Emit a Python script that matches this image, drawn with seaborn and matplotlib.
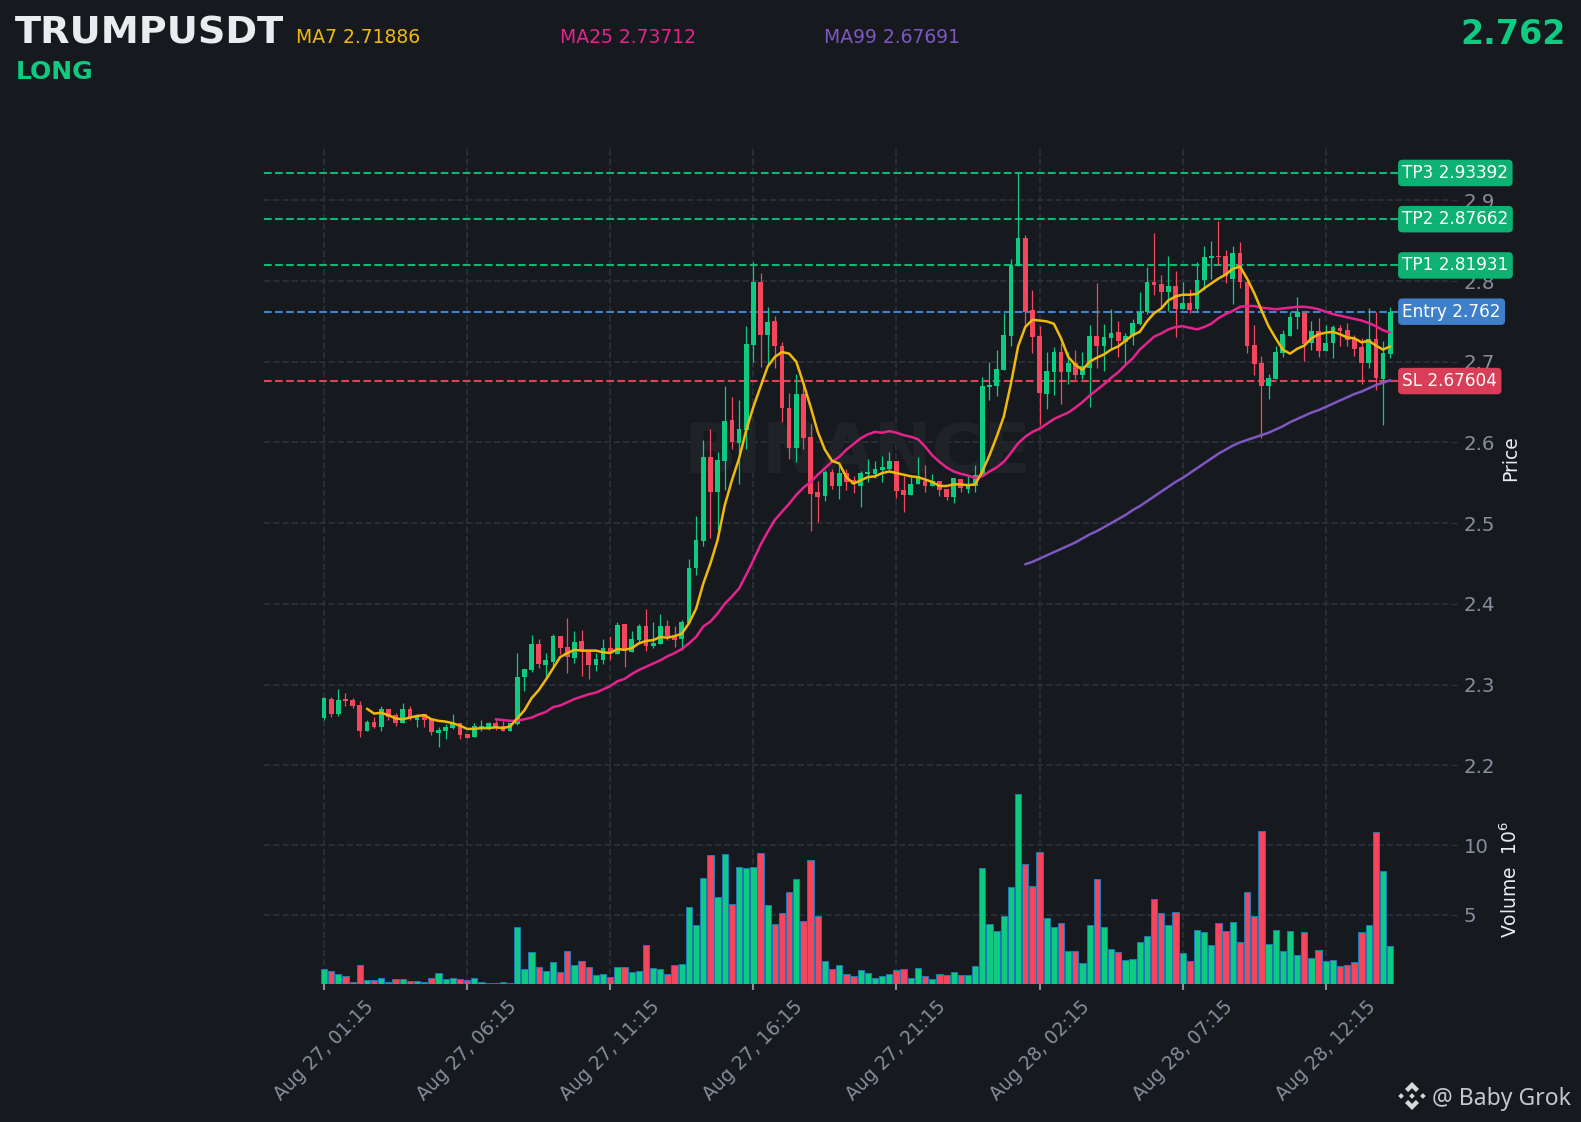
import matplotlib
matplotlib.use("Agg")
import matplotlib.pyplot as plt
import seaborn as sns
import numpy as np
import pandas as pd
from matplotlib.patches import Polygon

opens = [
    2.258, 2.282, 2.263, 2.282, 2.281, 2.275, 2.242, 2.254, 2.247, 2.270,
    2.262, 2.252, 2.270, 2.256, 2.263, 2.257, 2.240, 2.242, 2.246, 2.252,
    2.239, 2.235, 2.247, 2.247, 2.252, 2.249, 2.242, 2.251, 2.309, 2.318,
    2.350, 2.324, 2.328, 2.360, 2.346, 2.333, 2.354, 2.341, 2.324, 2.330,
    2.345, 2.338, 2.375, 2.340, 2.355, 2.372, 2.348, 2.350, 2.372, 2.360,
    2.356, 2.376, 2.444, 2.478, 2.582, 2.539, 2.577, 2.628, 2.599, 2.615,
    2.721, 2.799, 2.733, 2.750, 2.720, 2.643, 2.593, 2.660, 2.607, 2.539,
    2.534, 2.563, 2.546, 2.562, 2.553, 2.546, 2.561, 2.561, 2.566, 2.567,
    2.577, 2.541, 2.535, 2.548, 2.552, 2.546, 2.552, 2.542, 2.532, 2.555,
    2.542, 2.546, 2.558, 2.669, 2.670, 2.690, 2.732, 2.819, 2.853, 2.764,
    2.732, 2.660, 2.687, 2.712, 2.687, 2.698, 2.684, 2.692, 2.732, 2.719,
    2.729, 2.737, 2.725, 2.732, 2.747, 2.762, 2.799, 2.796, 2.786, 2.794,
    2.765, 2.773, 2.765, 2.801, 2.828, 2.831, 2.831, 2.802, 2.835, 2.799,
    2.721, 2.698, 2.670, 2.679, 2.711, 2.732, 2.755, 2.760, 2.723, 2.738,
    2.713, 2.723, 2.742, 2.739, 2.728, 2.718, 2.698, 2.728, 2.679, 2.710,
]
closes = [
    2.283, 2.263, 2.281, 2.280, 2.273, 2.242, 2.254, 2.247, 2.270, 2.260,
    2.252, 2.270, 2.258, 2.262, 2.256, 2.241, 2.244, 2.247, 2.251, 2.237,
    2.234, 2.249, 2.249, 2.252, 2.246, 2.242, 2.252, 2.309, 2.319, 2.350,
    2.325, 2.330, 2.360, 2.345, 2.334, 2.353, 2.341, 2.324, 2.332, 2.345,
    2.340, 2.374, 2.343, 2.356, 2.372, 2.348, 2.351, 2.372, 2.360, 2.355,
    2.377, 2.444, 2.479, 2.582, 2.539, 2.578, 2.626, 2.600, 2.617, 2.722,
    2.799, 2.733, 2.749, 2.720, 2.643, 2.593, 2.660, 2.606, 2.536, 2.532,
    2.563, 2.546, 2.562, 2.551, 2.549, 2.562, 2.563, 2.567, 2.570, 2.577,
    2.540, 2.535, 2.548, 2.558, 2.546, 2.552, 2.541, 2.532, 2.556, 2.544,
    2.546, 2.560, 2.670, 2.671, 2.691, 2.733, 2.820, 2.853, 2.762, 2.731,
    2.661, 2.688, 2.712, 2.687, 2.698, 2.684, 2.695, 2.732, 2.719, 2.731,
    2.735, 2.726, 2.732, 2.748, 2.762, 2.799, 2.795, 2.786, 2.794, 2.765,
    2.773, 2.764, 2.801, 2.830, 2.831, 2.830, 2.806, 2.835, 2.799, 2.720,
    2.697, 2.670, 2.680, 2.712, 2.734, 2.755, 2.762, 2.722, 2.738, 2.713,
    2.723, 2.743, 2.738, 2.727, 2.716, 2.698, 2.728, 2.680, 2.711, 2.762,
]
highs = [
    2.285, 2.285, 2.295, 2.290, 2.283, 2.279, 2.256, 2.260, 2.273, 2.270,
    2.265, 2.277, 2.274, 2.264, 2.263, 2.258, 2.247, 2.251, 2.263, 2.252,
    2.239, 2.252, 2.256, 2.254, 2.256, 2.255, 2.252, 2.339, 2.319, 2.361,
    2.356, 2.339, 2.363, 2.360, 2.382, 2.366, 2.367, 2.341, 2.339, 2.357,
    2.360, 2.377, 2.375, 2.366, 2.375, 2.393, 2.377, 2.387, 2.380, 2.373,
    2.380, 2.455, 2.509, 2.603, 2.617, 2.588, 2.670, 2.656, 2.653, 2.744,
    2.823, 2.810, 2.768, 2.757, 2.724, 2.661, 2.685, 2.675, 2.623, 2.552,
    2.566, 2.567, 2.572, 2.567, 2.558, 2.564, 2.579, 2.577, 2.583, 2.588,
    2.577, 2.558, 2.557, 2.582, 2.572, 2.561, 2.552, 2.542, 2.556, 2.555,
    2.558, 2.572, 2.681, 2.700, 2.715, 2.760, 2.827, 2.934, 2.857, 2.789,
    2.744, 2.712, 2.718, 2.723, 2.712, 2.715, 2.712, 2.745, 2.797, 2.747,
    2.765, 2.750, 2.736, 2.753, 2.786, 2.817, 2.860, 2.807, 2.831, 2.812,
    2.799, 2.790, 2.824, 2.843, 2.849, 2.874, 2.839, 2.843, 2.848, 2.799,
    2.746, 2.707, 2.685, 2.720, 2.739, 2.762, 2.780, 2.762, 2.751, 2.754,
    2.746, 2.746, 2.746, 2.748, 2.733, 2.729, 2.767, 2.762, 2.726, 2.768,
]
lows = [
    2.256, 2.260, 2.261, 2.274, 2.271, 2.235, 2.242, 2.246, 2.243, 2.256,
    2.248, 2.252, 2.256, 2.247, 2.247, 2.238, 2.223, 2.232, 2.245, 2.232,
    2.234, 2.235, 2.242, 2.244, 2.244, 2.242, 2.242, 2.250, 2.292, 2.316,
    2.320, 2.310, 2.323, 2.338, 2.314, 2.327, 2.310, 2.307, 2.317, 2.325,
    2.330, 2.338, 2.322, 2.340, 2.351, 2.342, 2.345, 2.350, 2.355, 2.347,
    2.343, 2.376, 2.436, 2.472, 2.482, 2.492, 2.541, 2.592, 2.549, 2.592,
    2.700, 2.693, 2.697, 2.692, 2.625, 2.579, 2.576, 2.592, 2.490, 2.501,
    2.527, 2.542, 2.530, 2.541, 2.537, 2.520, 2.551, 2.556, 2.551, 2.566,
    2.531, 2.514, 2.535, 2.548, 2.539, 2.546, 2.534, 2.529, 2.525, 2.539,
    2.537, 2.538, 2.558, 2.652, 2.658, 2.690, 2.719, 2.819, 2.746, 2.711,
    2.622, 2.642, 2.659, 2.648, 2.672, 2.679, 2.678, 2.644, 2.692, 2.689,
    2.715, 2.706, 2.696, 2.721, 2.745, 2.759, 2.783, 2.767, 2.763, 2.731,
    2.765, 2.760, 2.762, 2.789, 2.802, 2.820, 2.798, 2.772, 2.791, 2.711,
    2.684, 2.606, 2.654, 2.679, 2.706, 2.732, 2.741, 2.701, 2.714, 2.706,
    2.713, 2.705, 2.719, 2.720, 2.707, 2.673, 2.692, 2.665, 2.621, 2.704,
]
# volume in millions
volumes = [
    1.06, 0.96, 0.70, 0.55, 0.17, 1.34, 0.29, 0.29, 0.46, 0.17,
    0.38, 0.38, 0.22, 0.24, 0.12, 0.46, 0.82, 0.38, 0.46, 0.38,
    0.31, 0.46, 0.17, 0.10, 0.10, 0.17, 0.10, 4.12, 1.06, 2.33,
    1.20, 0.91, 1.56, 0.84, 2.40, 1.34, 1.63, 1.20, 0.62, 0.70,
    0.48, 1.20, 1.20, 0.84, 0.91, 2.78, 1.13, 1.06, 0.70, 1.34,
    1.41, 5.52, 4.22, 7.60, 9.26, 6.24, 9.33, 5.73, 8.39, 8.32,
    8.39, 9.40, 5.66, 4.29, 5.08, 6.59, 7.53, 4.51, 8.90, 4.87,
    1.63, 1.06, 1.34, 0.70, 0.55, 0.98, 0.77, 0.41, 0.55, 0.70,
    0.98, 1.06, 0.41, 1.13, 0.55, 0.34, 0.70, 0.62, 0.84, 0.62,
    0.62, 1.27, 8.32, 4.29, 3.79, 4.87, 6.95, 13.65, 8.61, 7.03,
    9.47, 4.72, 4.08, 4.36, 2.35, 2.35, 1.49, 4.22, 7.53, 4.08,
    2.49, 2.28, 1.70, 1.77, 3.00, 3.43, 6.09, 5.08, 4.22, 5.16,
    2.21, 1.63, 3.86, 3.72, 2.78, 4.36, 3.79, 4.44, 3.00, 6.59,
    4.87, 10.98, 2.85, 3.86, 2.35, 3.79, 2.06, 3.72, 1.85, 2.42,
    1.63, 1.70, 1.27, 1.34, 1.56, 3.72, 4.22, 10.91, 8.11, 2.71,
]
# moving averages, first value is at candle 6 / 24 / 98
ma7 = [
    2.270, 2.264, 2.265, 2.262,
    2.258, 2.257, 2.259, 2.261, 2.262, 2.257, 2.255, 2.254, 2.252, 2.249,
    2.245, 2.245, 2.246, 2.246, 2.247, 2.246, 2.248, 2.258, 2.268, 2.283,
    2.293, 2.306, 2.320, 2.334, 2.339, 2.343, 2.342, 2.342, 2.342, 2.340,
    2.339, 2.344, 2.343, 2.345, 2.351, 2.354, 2.355, 2.359, 2.358, 2.360,
    2.363, 2.376, 2.394, 2.425, 2.450, 2.479, 2.522, 2.553, 2.580, 2.615,
    2.644, 2.669, 2.694, 2.706, 2.712, 2.710, 2.700, 2.673, 2.644, 2.613,
    2.591, 2.577, 2.574, 2.557, 2.549, 2.553, 2.557, 2.558, 2.562, 2.564,
    2.562, 2.560, 2.558, 2.557, 2.554, 2.551, 2.546, 2.546, 2.548, 2.548,
    2.547, 2.548, 2.564, 2.584, 2.607, 2.632, 2.673, 2.719, 2.743, 2.752,
    2.751, 2.750, 2.747, 2.729, 2.706, 2.696, 2.690, 2.700, 2.705, 2.709,
    2.715, 2.719, 2.726, 2.733, 2.737, 2.750, 2.760, 2.766, 2.776, 2.781,
    2.783, 2.783, 2.784, 2.791, 2.797, 2.803, 2.808, 2.815, 2.818, 2.803,
    2.785, 2.764, 2.744, 2.729, 2.715, 2.710, 2.716, 2.720, 2.729, 2.734,
    2.736, 2.737, 2.734, 2.730, 2.729, 2.724, 2.726, 2.720, 2.715, 2.719,
]
ma25 = [
    2.257, 2.256, 2.255, 2.255, 2.257, 2.259,
    2.263, 2.266, 2.272, 2.274, 2.278, 2.282, 2.285, 2.288, 2.290, 2.294,
    2.298, 2.304, 2.307, 2.313, 2.318, 2.322, 2.326, 2.330, 2.335, 2.339,
    2.344, 2.351, 2.359, 2.372, 2.378, 2.388, 2.400, 2.409, 2.419, 2.436,
    2.454, 2.473, 2.489, 2.504, 2.514, 2.524, 2.535, 2.544, 2.551, 2.560,
    2.568, 2.576, 2.582, 2.591, 2.598, 2.605, 2.610, 2.613, 2.612, 2.614,
    2.612, 2.609, 2.607, 2.604, 2.595, 2.584, 2.576, 2.569, 2.564, 2.561,
    2.559, 2.556, 2.558, 2.564, 2.569, 2.576, 2.587, 2.599, 2.607, 2.613,
    2.617, 2.623, 2.629, 2.633, 2.637, 2.643, 2.650, 2.658, 2.665, 2.672,
    2.680, 2.687, 2.696, 2.704, 2.715, 2.723, 2.731, 2.735, 2.740, 2.743,
    2.744, 2.742, 2.740, 2.743, 2.747, 2.754, 2.759, 2.763, 2.768, 2.769,
    2.769, 2.767, 2.766, 2.765, 2.766, 2.767, 2.768, 2.768, 2.767, 2.765,
    2.762, 2.759, 2.757, 2.755, 2.753, 2.751, 2.748, 2.744, 2.739, 2.736,
]
ma99 = [
    2.449, 2.452, 2.456, 2.460, 2.464, 2.468, 2.472, 2.476, 2.481, 2.486,
    2.490, 2.495, 2.500, 2.505, 2.510, 2.516, 2.521, 2.527, 2.533, 2.539,
    2.545, 2.551, 2.556, 2.562, 2.568, 2.574, 2.580, 2.586, 2.591, 2.596,
    2.600, 2.603, 2.606, 2.609, 2.612, 2.616, 2.620, 2.625, 2.629, 2.633,
    2.637, 2.640, 2.644, 2.648, 2.652, 2.656, 2.660, 2.663, 2.667, 2.671,
    2.674, 2.677,
]

tick_pos = [0, 20, 40, 60, 80, 100, 120, 140]
tick_labels = ["Aug 27, 01:15", "Aug 27, 06:15", "Aug 27, 11:15", "Aug 27, 16:15",
               "Aug 27, 21:15", "Aug 28, 02:15", "Aug 28, 07:15", "Aug 28, 12:15"]
price_ticks = [2.2, 2.3, 2.4, 2.5, 2.6, 2.7, 2.8, 2.9]
volume_ticks = [5, 10]

level_names = ["TP3", "TP2", "TP1", "Entry", "SL"]
level_values = [2.93392, 2.87662, 2.81931, 2.762, 2.67604]
level_texts = ["2.93392", "2.87662", "2.81931", "2.762", "2.67604"]

BG = "#161a1f"
GREEN = "#0ecb81"
RED = "#f6465d"
GRID = "#2b3139"
GRAY = "#848e9c"
level_colors = ["#0db774", "#0db774", "#0db774", "#3f83d0", "#e0405a"]

W, H = 1581, 1122


def px(x, y):
    return x / W, 1 - y / H


sns.set_theme(style="dark", rc={"axes.facecolor": BG, "figure.facecolor": BG})
plt.rcParams["font.family"] = ["DejaVu Sans"]

fig = plt.figure(figsize=(W / 100, H / 100), dpi=100, facecolor=BG)
ax = fig.add_axes([264 / W, 1 - 984 / H, (1451 - 264) / W, (984 - 146) / H])
ax_vol = ax.twinx()

idx = np.arange(len(closes))
df = pd.DataFrame({"i": idx, "open": opens, "high": highs, "low": lows,
                   "close": closes, "volume": volumes})
df["side"] = np.where(df["close"] >= df["open"], "up", "down")
colors = df["side"].map({"up": GREEN, "down": RED})

# volumen
sns.barplot(data=df, x="i", y="volume", hue="side", palette={"up": GREEN, "down": RED},
            dodge=False, native_scale=True, width=0.88, edgecolor="#1f77b4", saturation=1,
            linewidth=0.75, legend=False, ax=ax_vol, zorder=3)

# velas
ax.vlines(df["i"], df["low"], df["high"], colors=colors, linewidth=0.9, zorder=3)
ax.bar(df["i"], (df["close"] - df["open"]).abs(), bottom=df[["open", "close"]].min(axis=1),
       width=0.66, color=colors, linewidth=0, zorder=4)

# medias
sns.lineplot(x=idx[6:], y=ma7, color="#f0b90b", linewidth=1.8, ax=ax, zorder=6)
sns.lineplot(x=idx[24:], y=ma25, color="#e6228f", linewidth=1.8, ax=ax, zorder=5)
sns.lineplot(x=idx[98:], y=ma99, color="#7e57c2", linewidth=1.8, ax=ax, zorder=5)

# niveles
for name, value, text, col in zip(level_names, level_values, level_texts, level_colors):
    ax.axhline(value, color=col, linestyle="--", linewidth=1.5, zorder=2)
    ax.text(150.7, value, f"{name} {text}", color="white", fontsize=12.2, va="center", ha="left",
            zorder=10, bbox=dict(boxstyle="round,pad=0.25", facecolor=col, edgecolor="none", alpha=0.97))

ax.set_xlim(-8.39, 157.5)
ax.set_ylim(1.9289, 2.9673)
ax_vol.set_ylim(0, 60.3)
ax_vol.set_xlim(-8.39, 157.5)

ax.yaxis.tick_right()
ax.set_yticks(price_ticks)
ax.set_yticklabels([f"{t:.1f}" for t in price_ticks])
ax_vol.set_yticks(volume_ticks)
ax_vol.set_yticklabels([str(t) for t in volume_ticks])
ax.set_xticks(tick_pos)
ax.set_xticklabels(tick_labels, rotation=45, ha="center")
ax_vol.set_xlabel("")
ax_vol.set_ylabel("")
ax.set_xlabel("")
ax.set_ylabel("")

for a in (ax, ax_vol):
    a.set_facecolor("none")
    a.grid(True, axis="y", color=GRID, linestyle="--", linewidth=1.25, zorder=0)
    a.tick_params(axis="y", labelcolor=GRAY, labelsize=14.2, length=4.5, width=1, color=GRID, pad=4.5,
                  left=False, labelleft=False, right=True, labelright=True)
    a.set_axisbelow(True)
    for s in a.spines.values():
        s.set_visible(False)
ax.grid(True, axis="x", color=GRID, linestyle="--", linewidth=1.25)
ax.tick_params(axis="x", colors=GRAY, labelsize=13.5, length=4.5, width=1.5, pad=5, bottom=True)

# cabecera
fig.text(*px(15, 44), "TRUMPUSDT", color="#eaecef", fontsize=27.5, fontweight="bold")
fig.text(*px(16, 79), "LONG", color=GREEN, fontsize=18, fontweight="bold")
fig.text(*px(296, 43), "MA7 2.71886", color="#f0b90b", fontsize=13.5)
fig.text(*px(560, 43), "MA25 2.73712", color="#e6228f", fontsize=13.5)
fig.text(*px(824, 43), "MA99 2.67691", color="#7e57c2", fontsize=13.5)
fig.text(*px(1566, 44), "2.762", color=GREEN, fontsize=24, fontweight="bold", ha="right")

# marca de agua, debajo de las velas
ax.text(*px(857, 454), "BINANCE", color="#1f2328", fontsize=50, fontweight="bold",
        ha="center", va="center", zorder=1, transform=fig.transFigure)

fig.text(*px(1511, 458), "Price", color="#eaecef", fontsize=13.5, rotation=90, ha="center", va="center")
fig.text(*px(1510, 880), "Volume  $10^6$", color="#eaecef", fontsize=13.5, rotation=90,
         ha="center", va="center")

# logo y firma
logo = fig.add_axes([1398 / W, 1 - 1110 / H, 28 / W, 28 / H])
logo.set_xlim(-1, 1)
logo.set_ylim(-1, 1)
logo.axis("off")
logo_color = "#d9d9d9"
top_shape = [(-0.5, 0.5), (0, 1), (0.5, 0.5), (0.28, 0.28), (0, 0.56), (-0.28, 0.28)]
for sign in (1, -1):
    logo.add_patch(Polygon([(a, sign * b) for a, b in top_shape], color=logo_color, lw=0))
for cx in (-0.78, 0, 0.78):
    logo.add_patch(Polygon([(cx - 0.2, 0), (cx, 0.2), (cx + 0.2, 0), (cx, -0.2)], color=logo_color, lw=0))
fig.text(*px(1432, 1105), "@ Baby Grok", color="#c4c7cc", fontsize=16.5, family="Noto Sans")

fig.savefig("out.png", dpi=100, facecolor=BG)
